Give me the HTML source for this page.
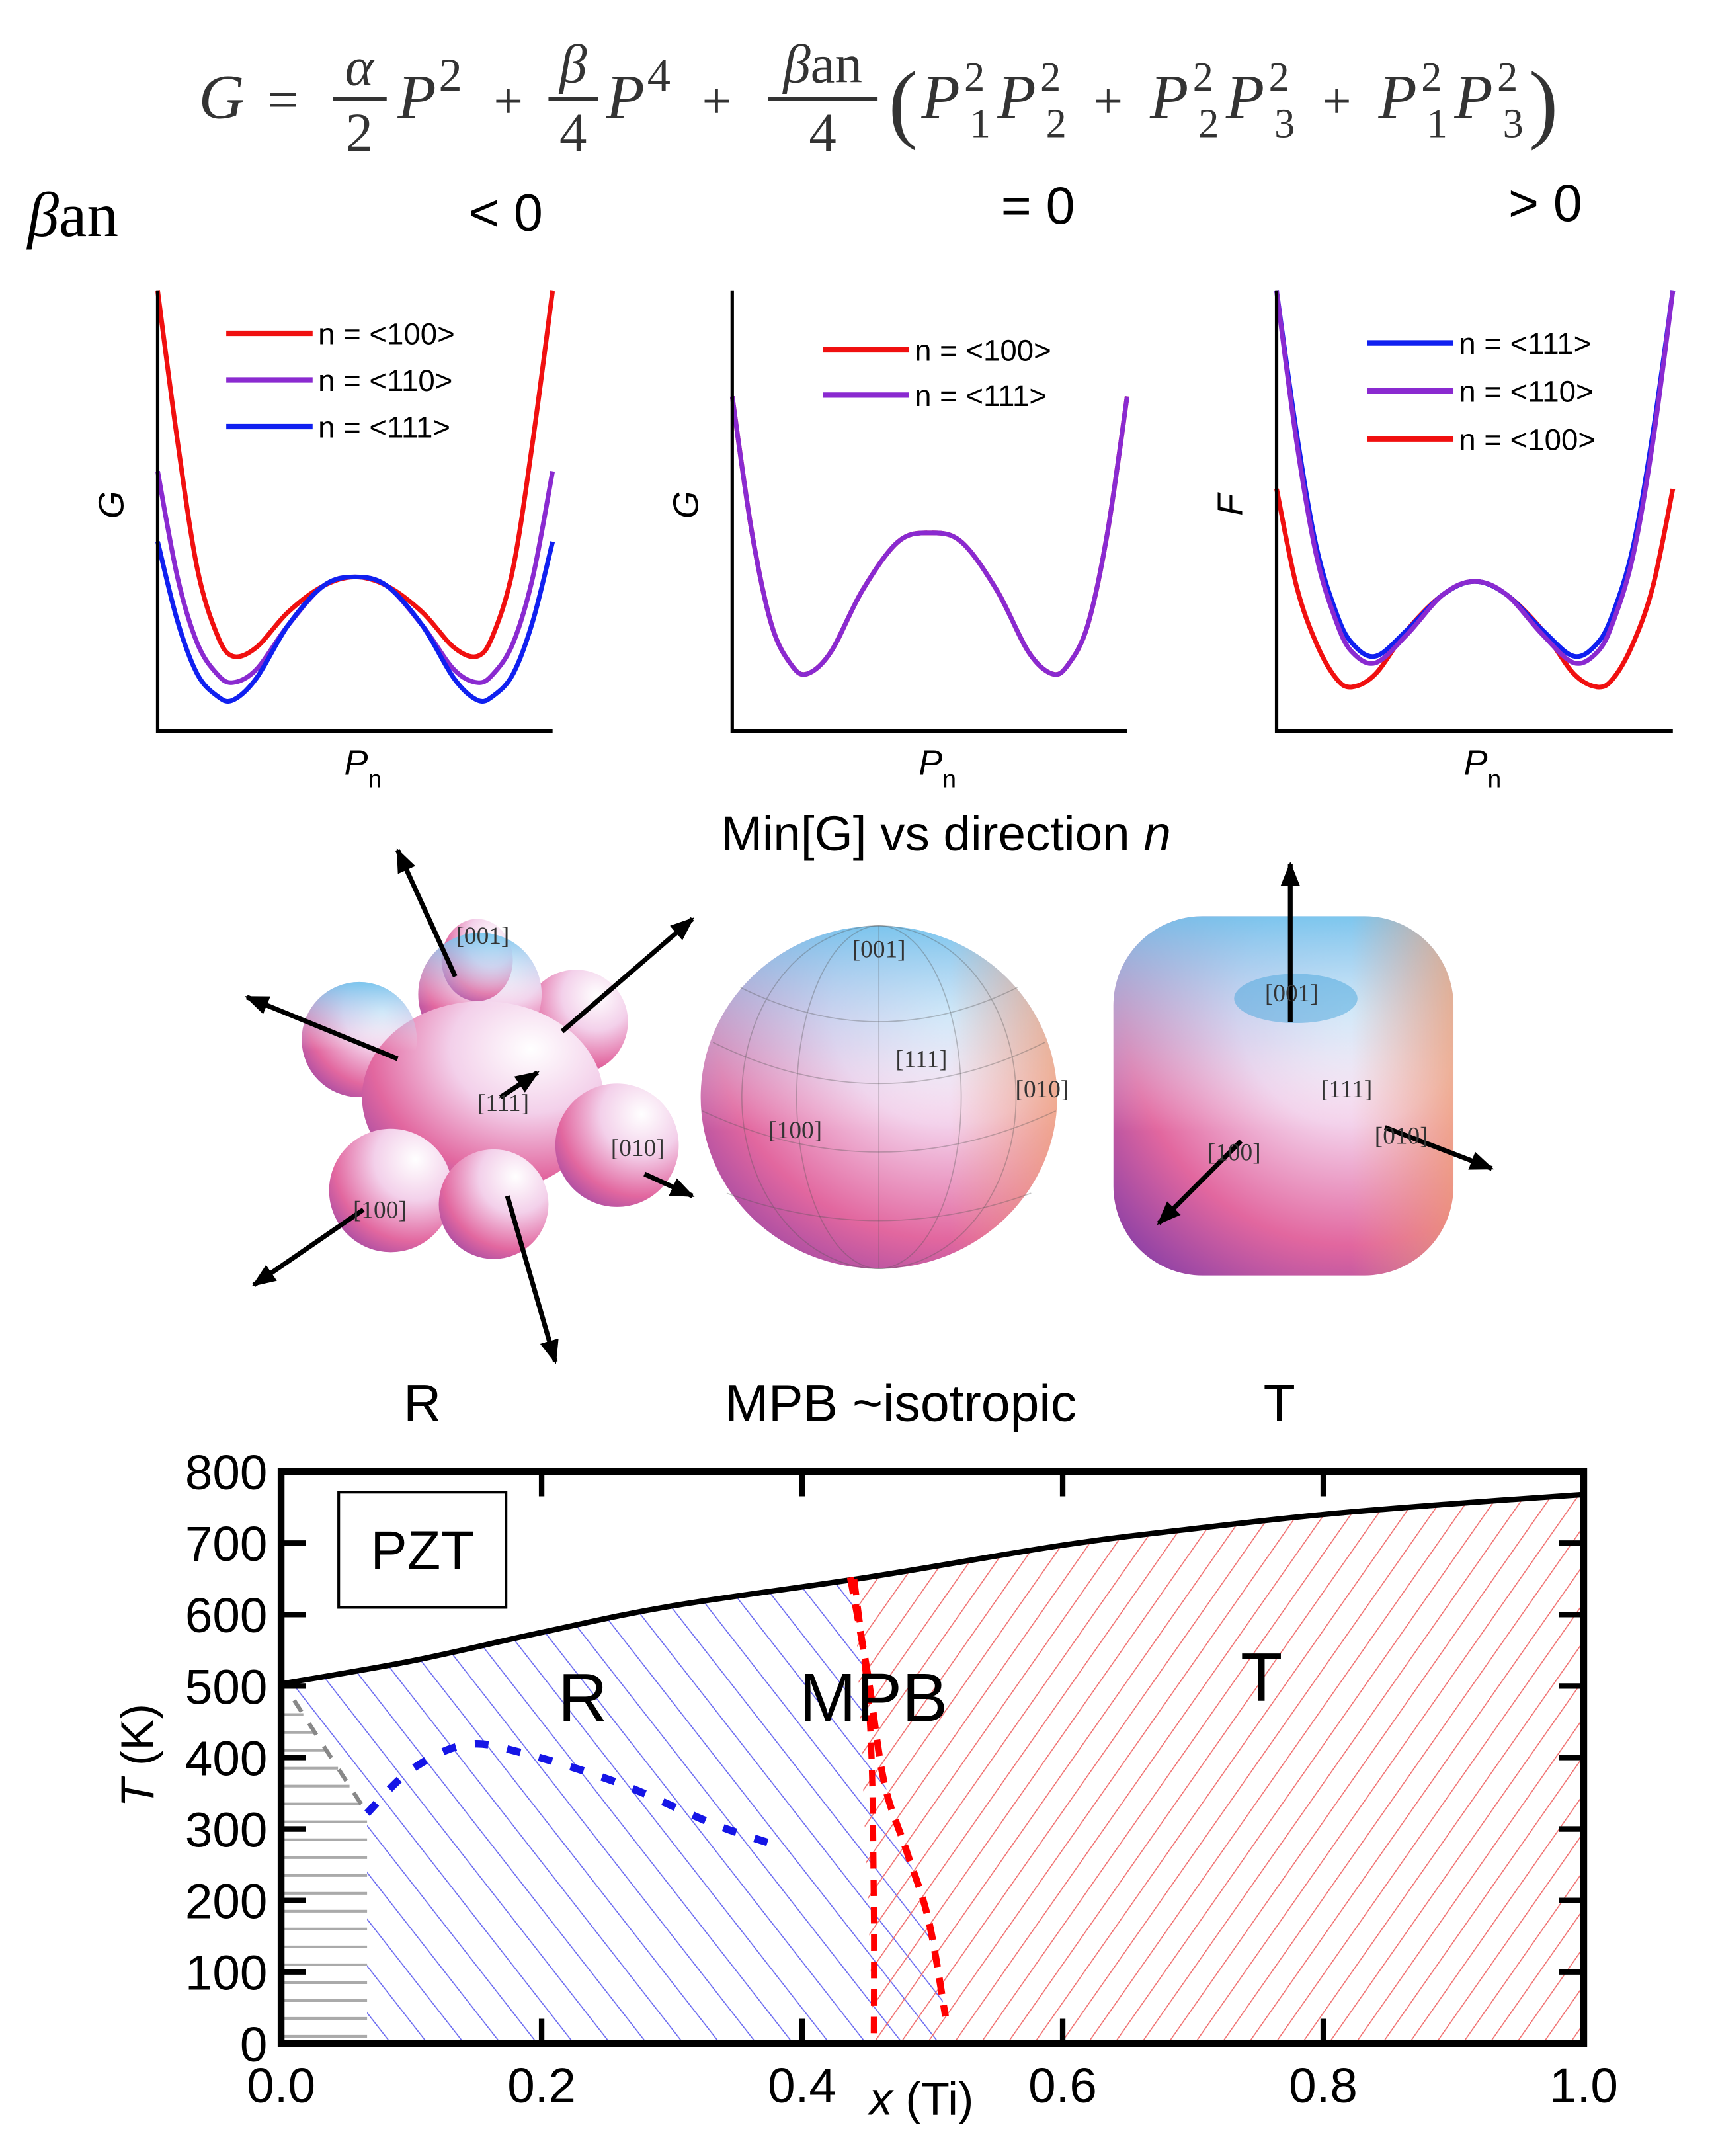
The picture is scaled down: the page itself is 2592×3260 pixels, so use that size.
<!DOCTYPE html>
<html><head><meta charset="utf-8"><style>
html,body{margin:0;padding:0;background:#fff}
svg{display:block}
.sans{font-family:"Liberation Sans",sans-serif}
.serif{font-family:"Liberation Serif",serif}
</style></head><body>
<svg id="root" width="2592" height="3260" viewBox="0 0 1250 1572" xmlns="http://www.w3.org/2000/svg">
<defs>
<radialGradient id="shade" cx="0.7" cy="0.25" r="0.95">
<stop offset="0" stop-color="#ffffff"/>
<stop offset="0.35" stop-color="#f3d0ea"/>
<stop offset="0.7" stop-color="#e2679f"/>
<stop offset="1" stop-color="#8a3fa6"/>
</radialGradient>
<linearGradient id="bluetop" x1="0" y1="0" x2="0" y2="1">
<stop offset="0" stop-color="#6fc4ee" stop-opacity="0.9"/>
<stop offset="0.35" stop-color="#b9d9f4" stop-opacity="0.4"/>
<stop offset="0.6" stop-color="#ffffff" stop-opacity="0"/>
</linearGradient>
<linearGradient id="rightwarm" x1="0" y1="0" x2="1" y2="0">
<stop offset="0.7" stop-color="#f0a080" stop-opacity="0"/>
<stop offset="1" stop-color="#f0a070" stop-opacity="0.7"/>
</linearGradient>
<marker id="ah" viewBox="0 0 10 10" refX="9" refY="5" markerWidth="5" markerHeight="5" orient="auto"><path d="M0,1 L10,5 L0,9 z" fill="#000"/></marker>
<pattern id="hatchBlue" patternUnits="userSpaceOnUse" width="21" height="21" patternTransform="rotate(-38)">
<line x1="0" y1="0" x2="0" y2="21" stroke="#6a6af0" stroke-width="1.6"/></pattern>
<pattern id="hatchRed" patternUnits="userSpaceOnUse" width="16" height="16" patternTransform="rotate(35)">
<line x1="0" y1="0" x2="0" y2="16" stroke="#f07070" stroke-width="1.6"/></pattern>
</defs>

<!-- Formula -->
<g class="serif" font-style="italic" fill="#333">
<text x="145" y="86" font-size="46">G</text>
<text x="195" y="86" font-size="40" font-style="normal">=</text>
<text x="262" y="62" font-size="40" text-anchor="middle">α</text>
<line x1="243" y1="72" x2="282" y2="72" stroke="#333" stroke-width="2.5"/>
<text x="262" y="110" font-size="40" text-anchor="middle" font-style="normal">2</text>
<text x="290" y="86" font-size="46">P</text><text x="320" y="66" font-size="34" font-style="normal">2</text>
<text x="360" y="86" font-size="38" font-style="normal">+</text>
<text x="418" y="60" font-size="40" text-anchor="middle">β</text>
<line x1="400" y1="72" x2="436" y2="72" stroke="#333" stroke-width="2.5"/>
<text x="418" y="110" font-size="40" text-anchor="middle" font-style="normal">4</text>
<text x="442" y="86" font-size="46">P</text><text x="472" y="66" font-size="34" font-style="normal">4</text>
<text x="512" y="86" font-size="38" font-style="normal">+</text>
<text x="600" y="60" font-size="40" text-anchor="middle">β<tspan font-style="normal">an</tspan></text>
<line x1="560" y1="72" x2="640" y2="72" stroke="#333" stroke-width="2.5"/>
<text x="600" y="110" font-size="40" text-anchor="middle" font-style="normal">4</text>
<text x="648" y="96" font-size="64" font-style="normal">(</text>
<text x="672" y="86" font-size="46" textLength="440" lengthAdjust="spacing">P<tspan font-size="30" font-style="normal" dy="-20" dx="-2">2</tspan><tspan font-size="30" font-style="normal" dy="34" dx="-16">1</tspan><tspan dy="-14">P</tspan><tspan font-size="30" font-style="normal" dy="-20" dx="-2">2</tspan><tspan font-size="30" font-style="normal" dy="34" dx="-16">2</tspan><tspan dy="-14" font-style="normal" font-size="38"> + </tspan><tspan>P</tspan><tspan font-size="30" font-style="normal" dy="-20" dx="-2">2</tspan><tspan font-size="30" font-style="normal" dy="34" dx="-16">2</tspan><tspan dy="-14">P</tspan><tspan font-size="30" font-style="normal" dy="-20" dx="-2">2</tspan><tspan font-size="30" font-style="normal" dy="34" dx="-16">3</tspan><tspan dy="-14" font-style="normal" font-size="38"> + </tspan><tspan>P</tspan><tspan font-size="30" font-style="normal" dy="-20" dx="-2">2</tspan><tspan font-size="30" font-style="normal" dy="34" dx="-16">1</tspan><tspan dy="-14">P</tspan><tspan font-size="30" font-style="normal" dy="-20" dx="-2">2</tspan><tspan font-size="30" font-style="normal" dy="34" dx="-16">3</tspan></text>
<text x="1115" y="96" font-size="64" font-style="normal">)</text>
</g>

<text x="20" y="172" class="serif" font-size="46"><tspan font-style="italic">β</tspan>an</text>
<text x="342" y="168" class="sans" font-size="38">&lt; 0</text>
<text x="730" y="163" class="sans" font-size="38">= 0</text>
<text x="1100" y="161" class="sans" font-size="38">&gt; 0</text>

<g id="panels"></g>

<!-- 3D shapes -->
<g>
<text x="690" y="620" class="sans" font-size="36" text-anchor="middle">Min[G] vs direction <tspan font-style="italic">n</tspan></text>
<g>
<g fill="url(#shade)">
<circle cx="420" cy="745" r="38"/><circle cx="262" cy="758" r="42"/><circle cx="350" cy="725" r="45"/>
<ellipse cx="352" cy="800" rx="88" ry="70"/><circle cx="450" cy="835" r="45"/><circle cx="285" cy="868" r="45"/><circle cx="360" cy="878" r="40"/><ellipse cx="348" cy="700" rx="26" ry="30"/>
</g>
<g fill="url(#bluetop)"><circle cx="350" cy="725" r="45"/><circle cx="262" cy="758" r="42"/></g>
</g>
<g>
<ellipse cx="641" cy="800" rx="130" ry="125" fill="url(#shade)"/>
<ellipse cx="641" cy="800" rx="130" ry="125" fill="url(#bluetop)"/>
<ellipse cx="641" cy="800" rx="130" ry="125" fill="url(#rightwarm)"/>
<g fill="none" stroke="#555" stroke-opacity="0.35" stroke-width="0.8">
<ellipse cx="641" cy="800" rx="60" ry="125"/><ellipse cx="641" cy="800" rx="100" ry="125"/>
<line x1="641" y1="675" x2="641" y2="925"/>
<path d="M520,760 Q641,820 762,760"/><path d="M512,810 Q641,870 770,810"/><path d="M530,870 Q641,910 752,870"/><path d="M540,720 Q641,770 742,720"/>
</g>
</g>
<g>
<rect x="812" y="668" width="248" height="262" rx="65" fill="url(#shade)"/>
<rect x="812" y="668" width="248" height="262" rx="65" fill="url(#bluetop)"/>
<rect x="812" y="668" width="248" height="262" rx="65" fill="url(#rightwarm)"/>
<ellipse cx="945" cy="728" rx="45" ry="18" fill="#4aa6dc" opacity="0.5"/>
</g>
<g stroke="#000" stroke-width="3.5" marker-end="url(#ah)">
<line x1="332" y1="712" x2="290" y2="620"/><line x1="290" y1="772" x2="180" y2="727"/>
<line x1="410" y1="752" x2="505" y2="670"/><line x1="365" y1="800" x2="392" y2="782"/>
<line x1="470" y1="856" x2="505" y2="872"/><line x1="265" y1="882" x2="185" y2="937"/>
<line x1="370" y1="872" x2="405" y2="993"/>
<line x1="941" y1="745" x2="941" y2="630"/><line x1="905" y1="832" x2="845" y2="892"/><line x1="1010" y1="822" x2="1088" y2="852"/>
</g>
<g class="serif" font-size="18" fill="#333" text-anchor="middle">
<text x="352" y="688">[001]</text><text x="367" y="810">[111]</text><text x="465" y="843">[010]</text><text x="277" y="888">[100]</text>
<text x="641" y="698">[001]</text><text x="672" y="778">[111]</text><text x="760" y="800">[010]</text><text x="580" y="830">[100]</text>
<text x="942" y="730">[001]</text><text x="982" y="800">[111]</text><text x="900" y="846">[100]</text><text x="1022" y="834">[010]</text>
</g>
<text x="308" y="1036" class="sans" font-size="38" text-anchor="middle">R</text>
<text x="657" y="1036" class="sans" font-size="38" text-anchor="middle">MPB ~isotropic</text>
<text x="933" y="1036" class="sans" font-size="38" text-anchor="middle">T</text>
</g>

<g id="phase"></g>
</svg>
<script>
// ---------- energy panel data ----------
const pnFrac = [0,0.05,0.1,0.15,0.19,0.25,0.33,0.42,0.5,0.58,0.67,0.75,0.81,0.85,0.9,0.95,1];
const neg100 = [100,66,37,22,17,19,27,33,35,33,27,19,17,22,37,66,100];
const neg110 = [59,35,20,13,11,14,24,33,35,33,24,14,11,13,20,35,59];
const neg111 = [43,25,13,8,7,12,24,33,35,33,24,12,7,8,13,25,43];
const zero111 = [76,45,24,15,13,18,32,43,45,43,32,18,13,15,24,45,76];
const pos111 = [100,68,42,27,20,17,23,31,34,31,23,17,20,27,42,68,100];
const pos110 = [100,66,40,25,18,15.5,22,31,34,31,22,15.5,18,25,40,66,100];
const pos100 = [55,33,20,12,10,13,23,31,34,31,23,13,10,12,20,33,55];

// ---------- phase diagram data ----------
const xTicks = [0.0,0.2,0.4,0.6,0.8,1.0];
const xTickLabels = ["0.0","0.2","0.4","0.6","0.8","1.0"];
const yTicks = [0,100,200,300,400,500,600,700,800];
const tcX = [0,0.1,0.2,0.3,0.45,0.6,0.7,0.8,0.9,1.0];
const tcT = [503,535,575,612,652,697,720,740,755,768];
const mpbCurveX = [0.437,0.45,0.463,0.48,0.497,0.51];
const mpbCurveT = [652,520,365,270,173,38];
const mpbVertX = [0.44,0.452,0.455,0.455];
const mpbVertT = [650,450,200,0];
const lowX = [0.066,0.1,0.142,0.184,0.258,0.332,0.379];
const lowT = [322,383,418,407,365,307,278];
const grayX = [0.01,0.066];
const grayT = [480,322];

const NS="http://www.w3.org/2000/svg";
function mk(tag, attrs, parent){const e=document.createElementNS(NS,tag);for(const k in attrs)e.setAttribute(k,attrs[k]);parent.appendChild(e);return e;}
function smooth(pts){let d="M"+pts[0][0]+","+pts[0][1];for(let i=0;i<pts.length-1;i++){const p0=pts[i-1]||pts[i],p1=pts[i],p2=pts[i+1],p3=pts[i+2]||p2;
const c1=[p1[0]+(p2[0]-p0[0])/6,p1[1]+(p2[1]-p0[1])/6],c2=[p2[0]-(p3[0]-p1[0])/6,p2[1]-(p3[1]-p1[1])/6];
d+=" C"+c1[0]+","+c1[1]+" "+c2[0]+","+c2[1]+" "+p2[0]+","+p2[1];}return d;}

// panels
const panelsG=document.getElementById('panels');
function panel(name,x0,x1,series,legend,legX,legY,ylab){
  const g=mk('g',{},panelsG);
  
  
  const y0=212,y1=533;
  const sx=f=>x0+f*(x1-x0), sy=v=>y1-v/100*(y1-y0);
  series.forEach(s=>{
    const p=mk('path',{d:smooth(pnFrac.map((f,i)=>[sx(f),sy(s.v[i])])),fill:'none',stroke:s.c,'stroke-width':3.4},g);
    
    
  });
  const ax=mk('path',{d:`M${x0},${y0} V${y1} H${x1}`,fill:'none',stroke:'#000','stroke-width':2.5},g);
  
  
  legend.forEach((l,i)=>{
    const y=legY+i*legend.spacing;
    const le=mk('g',{},g);
    
    
    mk('line',{x1:legX,y1:y,x2:legX+63,y2:y,stroke:l[0],'stroke-width':4},le);
    const t=mk('text',{x:legX+67,y:y+8,'font-size':22,'font-family':'Liberation Sans, sans-serif'},le);
    t.textContent=l[1];
  });
  const yl=mk('text',{x:0,y:0,'font-size':26,'font-family':'Liberation Sans, sans-serif','font-style':'italic',transform:`translate(${x0-25},368) rotate(-90)`,'text-anchor':'middle'},g);
  yl.textContent=ylab;
  
  
  const xl=mk('text',{x:(x0+x1)/2-8,y:565,'font-size':26,'font-family':'Liberation Sans, sans-serif','font-style':'italic'},g);
  xl.innerHTML='P<tspan font-size="18" font-style="normal" dy="9">n</tspan>';
  
  
}
let L1=[['#f01010','n = <100>'],['#8a2ad0','n = <110>'],['#1020f0','n = <111>']];L1.spacing=34;
panel('panel-beta-negative',115,403,[{v:neg100,c:'#f01010',n:'curve-100'},{v:neg110,c:'#8a2ad0',n:'curve-110'},{v:neg111,c:'#1020f0',n:'curve-111'}],L1,165,243,'G');
let L2=[['#f01010','n = <100>'],['#8a2ad0','n = <111>']];L2.spacing=33;
panel('panel-beta-zero',534,822,[{v:zero111,c:'#f01010',n:'curve-100'},{v:zero111,c:'#8a2ad0',n:'curve-111'}],L2,600,255,'G');
let L3=[['#1020f0','n = <111>'],['#8a2ad0','n = <110>'],['#f01010','n = <100>']];L3.spacing=35;
panel('panel-beta-positive',931,1220,[{v:pos100,c:'#f01010',n:'curve-100'},{v:pos111,c:'#1020f0',n:'curve-111'},{v:pos110,c:'#8a2ad0',n:'curve-110'}],L3,997,250,'F');

// phase diagram
const ph=document.getElementById('phase');


const X0=205,X1=1155,Yb=1490,Yt=1073;
const px=x=>X0+x*(X1-X0), py=t=>Yb-t/800*(Yb-Yt);
const tcPts=tcX.map((x,i)=>[px(x),py(tcT[i])]);
const curvePts=mpbCurveX.map((x,i)=>[px(x),py(mpbCurveT[i])]);
for(let t=10;t<480;t+=25){
  const xe = t>322?px(0.066)-(t-322)/(480-322)*(px(0.066)-px(0.01)):px(0.066);
  const gl=mk('line',{x1:X0,y1:py(t),x2:xe,y2:py(t),stroke:'#aaa','stroke-width':2},ph);
  
  
}
let bd="M"+px(0)+","+py(tcT[0]);
tcX.forEach((x,i)=>{if(x<=0.45)bd+=" L"+px(x)+","+py(tcT[i]);});
curvePts.forEach(p=>bd+=" L"+p[0]+","+p[1]);
bd+=` L${px(0.51)},${Yb} L${px(0.066)},${Yb} L${px(0.066)},${py(322)} L${px(0.01)},${py(480)} Z`;
const br=mk('path',{d:bd,fill:'url(#hatchBlue)'},ph);


let rd="M"+px(0.44)+","+py(650);
tcX.forEach((x,i)=>{if(x>0.45)rd+=" L"+px(x)+","+py(tcT[i]);});
rd+=` L${px(1)},${Yb} L${px(0.455)},${Yb} Z`;
const rr=mk('path',{d:rd,fill:'url(#hatchRed)'},ph);


const tcl=mk('path',{d:smooth(tcPts),fill:'none',stroke:'#000','stroke-width':4},ph);


const m1=mk('path',{d:smooth(curvePts),fill:'none',stroke:'#f00','stroke-width':5,'stroke-dasharray':'12 8'},ph);


const m2=mk('path',{d:smooth(mpbVertX.map((x,i)=>[px(x),py(mpbVertT[i])])),fill:'none',stroke:'#f00','stroke-width':4.5,'stroke-dasharray':'12 8'},ph);


const lb=mk('path',{d:smooth(lowX.map((x,i)=>[px(x),py(lowT[i])])),fill:'none',stroke:'#1515e6','stroke-width':5.5,'stroke-dasharray':'10 14'},ph);


const gd=mk('path',{d:smooth(grayX.map((x,i)=>[px(x),py(grayT[i])])),fill:'none',stroke:'#888','stroke-width':3,'stroke-dasharray':'10 10'},ph);


const fr=mk('rect',{x:X0,y:Yt,width:X1-X0,height:Yb-Yt,fill:'none',stroke:'#000','stroke-width':5},ph);


xTicks.forEach((x,i)=>{
  mk('line',{x1:px(x),y1:Yt,x2:px(x),y2:Yt+18,stroke:'#000','stroke-width':4},ph);
  mk('line',{x1:px(x),y1:Yb,x2:px(x),y2:Yb-18,stroke:'#000','stroke-width':4},ph);
  const t=mk('text',{x:px(x),y:1533,'font-size':36,'text-anchor':'middle','font-family':'Liberation Sans, sans-serif'},ph);
  t.textContent=xTickLabels[i];
  
  
});
yTicks.forEach(v=>{
  mk('line',{x1:X0,y1:py(v),x2:X0+18,y2:py(v),stroke:'#000','stroke-width':4},ph);
  mk('line',{x1:X1,y1:py(v),x2:X1-18,y2:py(v),stroke:'#000','stroke-width':4},ph);
  const t=mk('text',{x:195,y:py(v)+13,'font-size':36,'text-anchor':'end','font-family':'Liberation Sans, sans-serif'},ph);
  t.textContent=v;
  
  
});
const xt=mk('text',{x:672,y:1542,'font-size':34,'text-anchor':'middle','font-family':'Liberation Sans, sans-serif'},ph);
xt.innerHTML='<tspan font-style="italic">x</tspan> (Ti)';


const yt=mk('text',{x:0,y:0,'font-size':34,'text-anchor':'middle','font-family':'Liberation Sans, sans-serif',transform:'translate(112,1280) rotate(-90)'},ph);
yt.innerHTML='<tspan font-style="italic">T</tspan> (K)';


const pb=mk('rect',{x:247,y:1088,width:122,height:84,fill:'#fff',stroke:'#000','stroke-width':2},ph);


const pt=mk('text',{x:308,y:1144,'font-size':40,'text-anchor':'middle','font-family':'Liberation Sans, sans-serif'},ph);
pt.textContent='PZT';


[['R',425,1255,'region-label-r'],['MPB',637,1255,'region-label-mpb'],['T',920,1240,'region-label-t']].forEach(a=>{
  const t=mk('text',{x:a[1],y:a[2],'font-size':50,'text-anchor':'middle','font-family':'Liberation Sans, sans-serif'},ph);
  t.textContent=a[0];
  
  
});
</script>
</body></html>
